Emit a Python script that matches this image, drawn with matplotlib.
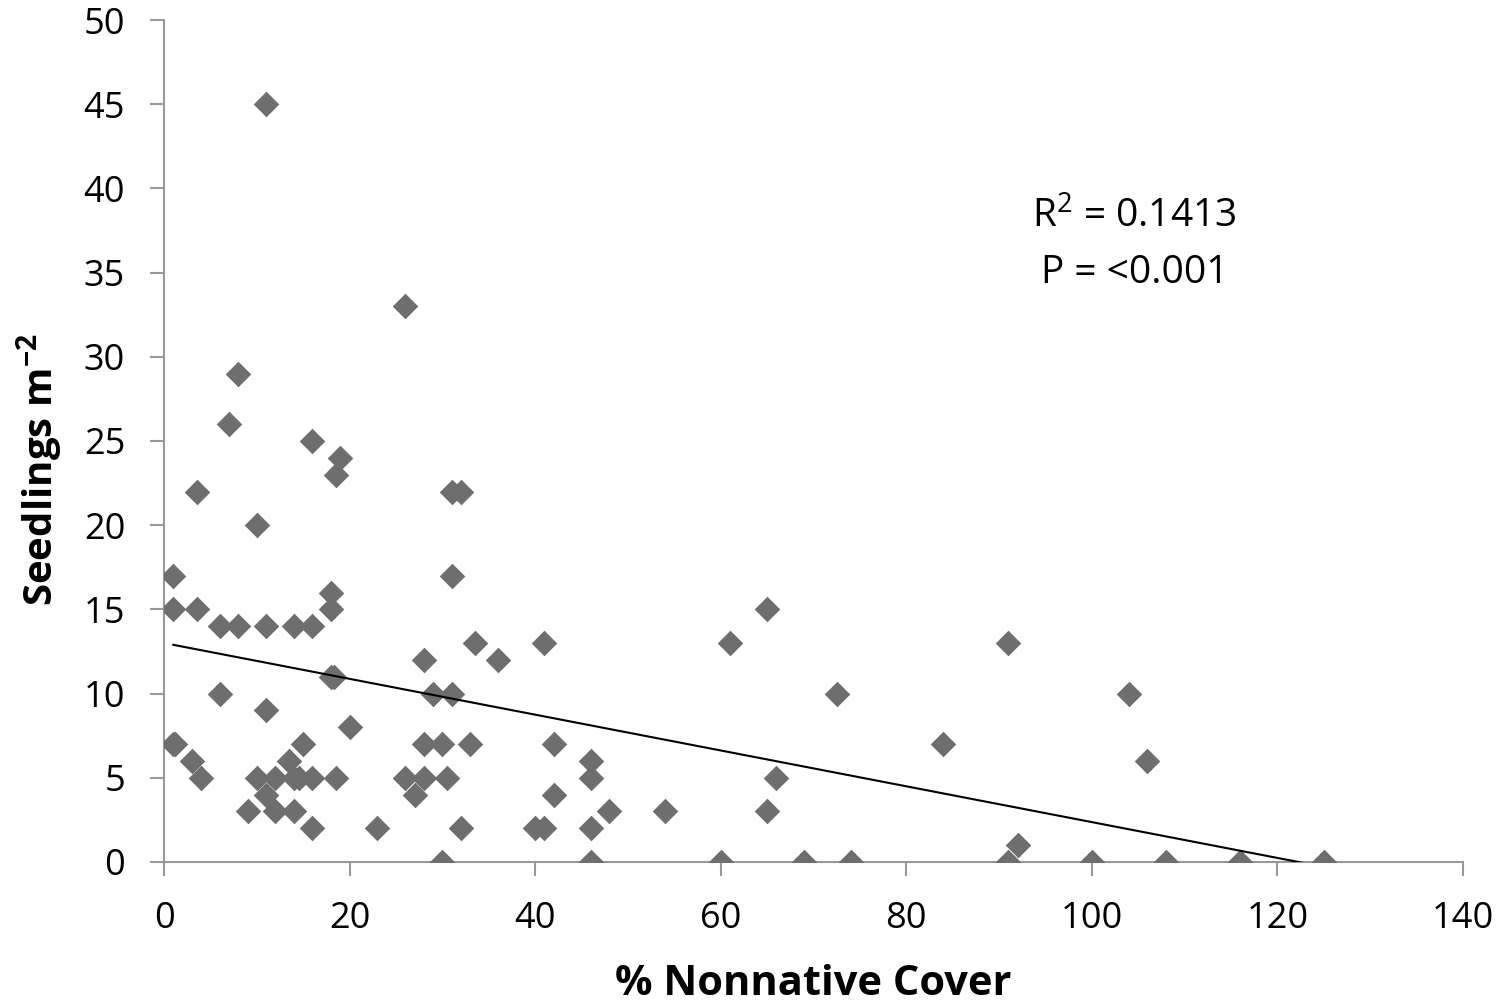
import numpy as np
import matplotlib
matplotlib.use('Agg')
import matplotlib.pyplot as plt

# % nonnative cover vs seedlings per m2
cover = [1, 1, 1, 1.2, 3.5, 3.5, 3, 4, 6, 6, 7, 8, 8, 9, 10, 10, 11, 11, 11, 11,
         12, 12, 13.5, 14, 14, 14, 14.5, 15, 16, 16, 16, 16, 18, 18, 18, 18.3,
         18.5, 19, 18.5, 20, 23, 26, 26, 27, 28, 28, 28, 29, 30, 30, 30.5, 31,
         31, 31, 32, 32, 33, 33.5, 36, 40, 41, 41, 42, 42, 46, 46, 46, 46, 48,
         54, 60, 61, 65, 65, 66, 69, 72.5, 74, 84, 91, 91, 92, 100, 104, 106,
         108, 116, 125]
seedlings = [17, 15, 7, 7, 22, 15, 6, 5, 14, 10, 26, 29, 14, 3, 20, 5, 45, 14, 9, 4,
             5, 3, 6, 14, 5, 3, 5, 7, 25, 14, 5, 2, 16, 15, 11, 11,
             23, 24, 5, 8, 2, 33, 5, 4, 12, 7, 5, 10, 7, 0, 5, 10,
             17, 22, 22, 2, 7, 13, 12, 2, 2, 13, 7, 4, 6, 5, 2, 0, 3,
             3, 0, 13, 15, 3, 5, 0, 10, 0, 7, 13, 0, 1, 0, 10, 6,
             0, 0, 0]

r2_label = 'R$^2$ = 0.1413'
p_label = 'P = <0.001'

plt.rcParams['font.family'] = ['Open Sans', 'DejaVu Sans']
plt.rcParams['mathtext.fontset'] = 'custom'
plt.rcParams['mathtext.rm'] = 'Open Sans'
plt.rcParams['mathtext.bf'] = 'Open Sans:bold'
plt.rcParams['mathtext.default'] = 'rm'

fig = plt.figure(figsize=(15.05, 10.08), dpi=100)
ax = fig.add_axes([0.109, 0.145, 0.863, 0.835])

ax.scatter(cover, seedlings, marker='D', s=170, color='#6e6e6e', zorder=3, linewidths=0)

# linear trendline
slope, intercept = np.polyfit(cover, seedlings, 1)
xs = np.array([min(cover), max(cover)])
ax.plot(xs, slope * xs + intercept, color='black', lw=1.5, zorder=4)

ax.text(104.6, 38.3, r2_label, ha='center', va='center', fontsize=28)
ax.text(104.6, 35.0, p_label, ha='center', va='center', fontsize=28)

ax.set_xlim(0, 140)
ax.set_ylim(0, 50)
ax.set_xticks(range(0, 141, 20))
ax.set_yticks(range(0, 51, 5))
ax.tick_params(labelsize=26, color='#999999', length=10, width=1.5)
ax.tick_params(axis='x', pad=18)
ax.tick_params(axis='y', pad=18)
for s in ['top', 'right']:
    ax.spines[s].set_visible(False)
for s in ['left', 'bottom']:
    ax.spines[s].set_color('#999999')
    ax.spines[s].set_linewidth(1.5)

ax.set_xlabel('% Nonnative Cover', fontsize=30, fontweight='bold')
ax.set_ylabel('Seedlings m$^{\\mathbf{-2}}$', fontsize=29, fontweight='bold')
ax.xaxis.label.set_verticalalignment('center')
ax.yaxis.label.set_verticalalignment('center')
ax.xaxis.set_label_coords(0.5, -0.146)
ax.yaxis.set_label_coords(-0.0955, 0.466)

fig.savefig('out.png', dpi=100)
